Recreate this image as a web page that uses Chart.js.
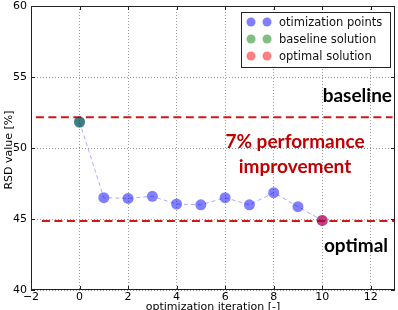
<!DOCTYPE html>
<html>
<head>
<meta charset="utf-8">
<script src="https://cdn.jsdelivr.net/npm/chart.js@4/dist/chart.umd.min.js"></script>
<style>
html,body{margin:0;padding:0;background:#fff;}
#wrap{width:398px;height:310px;position:relative;}
</style>
</head>
<body>
<div id="wrap"><canvas id="c" width="398" height="310"></canvas></div>
<script>
// ---- data ----
const iterations = [0, 1, 2, 3, 4, 5, 6, 7, 8, 9, 10];
const rsdValues  = [51.83, 46.5, 46.45, 46.6, 46.05, 46.0, 46.5, 46.0, 46.85, 45.87, 44.9];
const baselineX = [0];
const baselineY = [51.83];
const optimalX  = [10];
const optimalY  = [44.9];
const baselineLevel = 52.16;
const baselineSpan = [-1.8, 12.9];
const optimalLevel = 44.86;
const optimalSpan = [-1.55, 13];
const xTicks = [-2, 0, 2, 4, 6, 8, 10, 12];
const yTicks = [40, 45, 50, 55, 60];
const legendLabels = ['otimization points', 'baseline solution', 'optimal solution'];
const xTitle = 'optimization iteration [-]';
const yTitle = 'RSD value [%]';
const noteBaseline = 'baseline';
const noteImprove = ['7% performance', 'improvement'];
const noteOptimal = 'optimal';

const BLUE = 'rgba(0,0,255,0.5)';
const GREEN = 'rgba(0,128,0,0.5)';
const RED = 'rgba(255,0,0,0.5)';
const TICKFONT = {family: '"DejaVu Sans"', size: 11};

const fmt = v => (v < 0 ? '\u2212' + Math.abs(v) : String(v));

const framePlugin = {
  id: 'frame',
  afterDraw(chart) {
    const ctx = chart.ctx, a = chart.chartArea;
    const xs = chart.scales.x, ys = chart.scales.y;
    ctx.save();
    ctx.strokeStyle = '#222';
    ctx.lineWidth = 1;
    ctx.strokeRect(Math.round(a.left) + 0.5, Math.round(a.top) + 0.5,
                   Math.round(a.right - a.left) - 1, Math.round(a.bottom - a.top) - 1);
    // inward ticks
    ctx.beginPath();
    xTicks.forEach(v => {
      const x = Math.round(xs.getPixelForValue(v)) + 0.5;
      ctx.moveTo(x, a.bottom); ctx.lineTo(x, a.bottom - 4);
      ctx.moveTo(x, a.top); ctx.lineTo(x, a.top + 4);
    });
    yTicks.forEach(v => {
      const y = Math.round(ys.getPixelForValue(v)) + 0.5;
      ctx.moveTo(a.left, y); ctx.lineTo(a.left + 4, y);
      ctx.moveTo(a.right, y); ctx.lineTo(a.right - 4, y);
    });
    ctx.stroke();

    // axis titles
    ctx.fillStyle = '#000';
    ctx.font = '11px "DejaVu Sans"';
    ctx.textAlign = 'center';
    ctx.textBaseline = 'alphabetic';
    ctx.fillText(xTitle, (a.left + a.right) / 2, 310);
    ctx.save();
    ctx.translate(12, (a.top + a.bottom) / 2 + 2);
    ctx.rotate(-Math.PI / 2);
    ctx.fillText(yTitle, 0, 0);
    ctx.restore();

    // annotations
    ctx.font = 'bold 19px Lato';
    ctx.textAlign = 'right';
    ctx.fillStyle = '#000';
    ctx.fillText(noteBaseline, 392, 102);
    ctx.fillText(noteOptimal, 388, 252);
    ctx.fillStyle = '#c00000';
    ctx.textAlign = 'center';
    ctx.fillText(noteImprove[0], 295, 148);
    ctx.fillText(noteImprove[1], 295, 173);

    // legend
    const lx = 241.5, ly = 12.5, lw = 149, lh = 55;
    ctx.fillStyle = '#fff';
    ctx.fillRect(lx, ly, lw, lh);
    ctx.strokeStyle = '#222';
    ctx.strokeRect(lx, ly, lw, lh);
    const cols = [BLUE, GREEN, RED];
    ctx.font = '11.5px "DejaVu Sans"';
    ctx.textAlign = 'left';
    ctx.textBaseline = 'middle';
    legendLabels.forEach((t, i) => {
      const cy = 22 + i * 17;
      ctx.fillStyle = cols[i];
      [251, 267].forEach(cx => {
        ctx.beginPath(); ctx.arc(cx, cy, 4.5, 0, Math.PI * 2); ctx.fill();
      });
      ctx.fillStyle = '#111';
      ctx.fillText(t, 279, cy + 1);
    });
    ctx.restore();
  }
};

const toPts = (xs, ys) => xs.map((x, i) => ({x, y: ys[i]}));

new Chart(document.getElementById('c'), {
  type: 'scatter',
  data: {
    datasets: [
      {
        label: 'baseline level',
        data: baselineSpan.map(x => ({x, y: baselineLevel})),
        showLine: true, borderColor: '#d01818', borderWidth: 2, borderDash: [8, 4.5],
        pointRadius: 0, order: 10
      },
      {
        label: 'optimal level',
        data: optimalSpan.map(x => ({x, y: optimalLevel})),
        showLine: true, borderColor: '#d01818', borderWidth: 2, borderDash: [8, 4.5],
        pointRadius: 0, order: 9
      },
      {
        label: legendLabels[0],
        data: toPts(iterations, rsdValues),
        showLine: true, borderColor: 'rgba(90,90,255,0.5)', borderWidth: 1, borderDash: [4, 3],
        backgroundColor: BLUE, pointBorderWidth: 0, pointRadius: 5.5, order: 3
      },
      {
        label: legendLabels[1],
        data: toPts(baselineX, baselineY),
        backgroundColor: GREEN, pointBorderWidth: 0, pointRadius: 5.5, order: 2
      },
      {
        label: legendLabels[2],
        data: toPts(optimalX, optimalY),
        backgroundColor: RED, pointBorderWidth: 0, pointRadius: 5.5, order: 1
      }
    ]
  },
  options: {
    responsive: false,
    animation: false,
    events: [],
    layout: {autoPadding: false, padding: {left: 0, right: 3, top: 6, bottom: 0}},
    plugins: {legend: {display: false}, tooltip: {enabled: false}},
    scales: {
      x: {
        type: 'linear', min: -2, max: 13,
        afterBuildTicks: s => { s.ticks = xTicks.map(v => ({value: v})); },
        afterFit: s => { s.height = 20; s.paddingLeft = 0; s.paddingRight = 0; },
        ticks: {font: TICKFONT, color: '#000', padding: 1, maxRotation: 0, callback: v => fmt(v)},
        grid: {color: '#9a9a9a', lineWidth: 1, drawTicks: false},
        border: {display: false, dash: [1, 2]}
      },
      y: {
        type: 'linear', min: 40, max: 60,
        afterBuildTicks: s => { s.ticks = yTicks.map(v => ({value: v})); },
        afterFit: s => { s.width = 31; s.paddingTop = 0; s.paddingBottom = 0; },
        ticks: {font: TICKFONT, color: '#000', padding: 4, callback: v => fmt(v)},
        grid: {color: '#9a9a9a', lineWidth: 1, drawTicks: false},
        border: {display: false, dash: [1, 2]}
      }
    }
  },
  plugins: [framePlugin]
});
</script>
</body>
</html>
